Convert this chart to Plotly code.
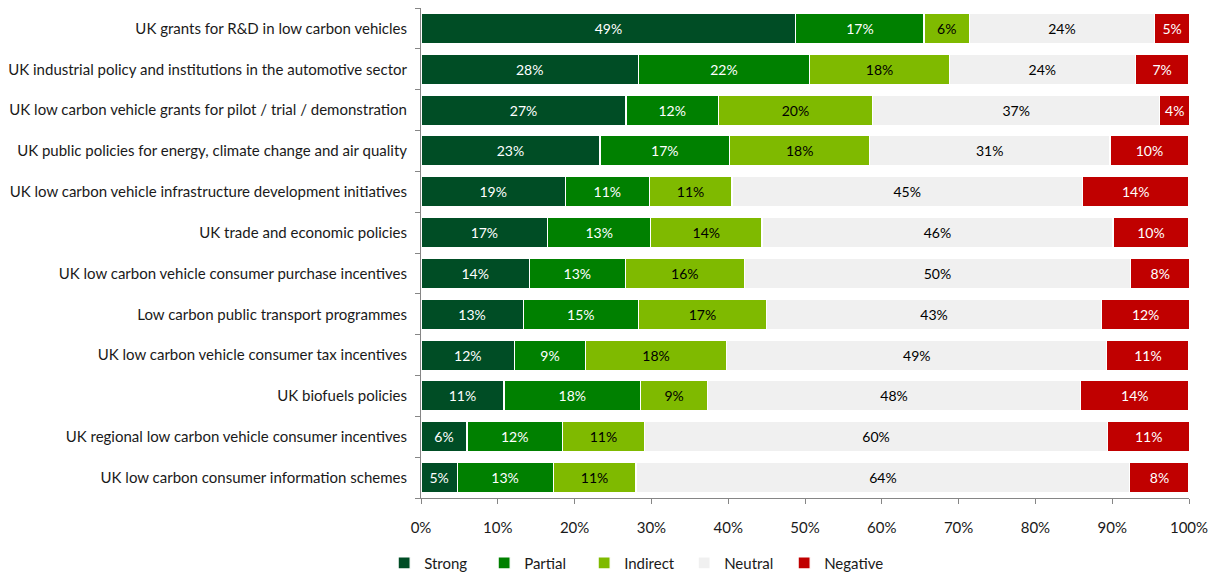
import plotly.graph_objects as go

categories = [
    "UK grants for R&D in low carbon vehicles",
    "UK industrial policy and institutions in the automotive sector",
    "UK low carbon vehicle grants for pilot / trial / demonstration",
    "UK public policies for energy, climate change and air quality",
    "UK low carbon vehicle infrastructure development initiatives",
    "UK trade and economic policies",
    "UK low carbon vehicle consumer purchase incentives",
    "Low carbon public transport programmes",
    "UK low carbon vehicle consumer tax incentives",
    "UK biofuels policies",
    "UK regional low carbon vehicle consumer incentives",
    "UK low carbon consumer information schemes",
]

strong   = [48.8, 28.3, 26.7, 23.3, 18.8, 16.5, 14.1, 13.3, 12.2, 10.8, 6.0, 4.7]
partial  = [16.7, 22.3, 12.0, 16.9, 10.9, 13.4, 12.5, 15.0, 9.2, 17.8, 12.4, 12.5]
indirect = [5.9, 18.2, 20.1, 18.2, 10.8, 14.5, 15.5, 16.7, 18.4, 8.7, 10.7, 10.8]
neutral  = [24.1, 24.2, 37.4, 31.3, 45.6, 45.7, 50.3, 43.6, 49.5, 48.6, 60.3, 64.3]
negative = [4.6, 7.0, 3.9, 10.3, 13.9, 9.9, 7.7, 11.5, 10.7, 14.1, 10.7, 7.7]

label_strong   = ["49%", "28%", "27%", "23%", "19%", "17%", "14%", "13%", "12%", "11%", "6%", "5%"]
label_partial  = ["17%", "22%", "12%", "17%", "11%", "13%", "13%", "15%", "9%", "18%", "12%", "13%"]
label_indirect = ["6%", "18%", "20%", "18%", "11%", "14%", "16%", "17%", "18%", "9%", "11%", "11%"]
label_neutral  = ["24%", "24%", "37%", "31%", "45%", "46%", "50%", "43%", "49%", "48%", "60%", "64%"]
label_negative = ["5%", "7%", "4%", "10%", "14%", "10%", "8%", "12%", "11%", "14%", "11%", "8%"]

tick_values = [0, 10, 20, 30, 40, 50, 60, 70, 80, 90, 100]
tick_labels = ["0%", "10%", "20%", "30%", "40%", "50%", "60%", "70%", "80%", "90%", "100%"]

series = [
    ("Strong", strong, label_strong, "#004D25", "white"),
    ("Partial", partial, label_partial, "#008000", "white"),
    ("Indirect", indirect, label_indirect, "#7FBA00", "black"),
    ("Neutral", neutral, label_neutral, "#F0F0F0", "black"),
    ("Negative", negative, label_negative, "#C00000", "white"),
]

FONT = "Lato, 'Open Sans', sans-serif"

fig = go.Figure()
for name, vals, labels, color, tcolor in series:
    fig.add_trace(go.Bar(
        name=name, y=categories, x=vals, orientation="h",
        marker=dict(color=color, line=dict(color="white", width=1.2)),
        text=labels, textposition="inside", insidetextanchor="middle",
        textangle=0, constraintext="none",
        textfont=dict(color=tcolor, size=14, family=FONT),
        hoverinfo="skip",
    ))

fig.update_layout(
    barmode="stack",
    bargap=0.26,
    width=1218, height=573,
    margin=dict(l=421, r=29, t=8, b=75, autoexpand=False),
    plot_bgcolor="white", paper_bgcolor="white",
    font=dict(family=FONT, size=14, color="#1a1a1a"),
    showlegend=True,
    legend=dict(
        orientation="h", traceorder="normal",
        x=-0.048, xanchor="left", y=-0.133, yanchor="middle",
        font=dict(size=15, color="#1a1a1a"),
        entrywidth=55, entrywidthmode="pixels",
        itemwidth=30, tracegroupgap=0,
    ),
    xaxis=dict(
        range=[0, 100], tickvals=tick_values, ticktext=tick_labels,
        showgrid=False, zeroline=False, automargin=False,
        showline=True, linecolor="#868686", linewidth=1,
        ticks="outside", ticklen=5, tickcolor="#868686",
        ticklabelstandoff=11,
        tickfont=dict(size=15, color="#1a1a1a"),
    ),
    yaxis=dict(
        categoryorder="array", categoryarray=categories[::-1],
        showgrid=False, zeroline=False, automargin=False,
        showline=True, linecolor="#868686", linewidth=1,
        ticks="outside", ticklen=5, tickcolor="#868686",
        tickson="boundaries", ticklabelstandoff=10,
        tickfont=dict(size=15, color="#1a1a1a"),
    ),
)

fig.write_html("out.html")
